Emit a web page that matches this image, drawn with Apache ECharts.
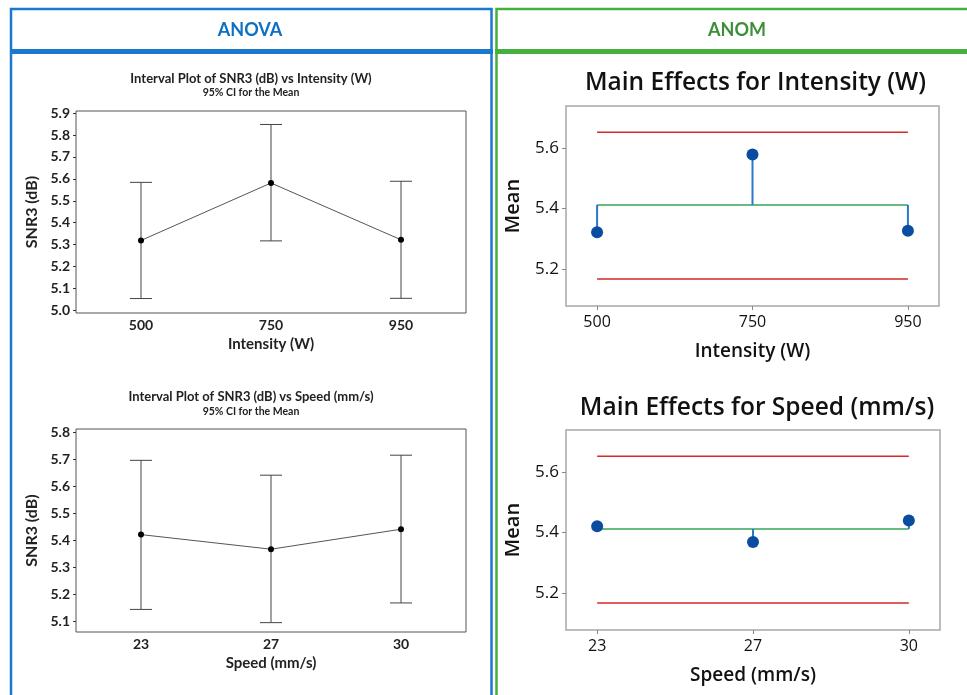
<!DOCTYPE html>
<html>
<head>
<meta charset="utf-8">
<script src="https://cdn.jsdelivr.net/npm/echarts@6/dist/echarts.min.js"></script>
<style>
  html, body { margin: 0; padding: 0; background: #fff; }
  #chart { width: 967px; height: 695px; }
</style>
</head>
<body>
<div id="chart"></div>
<script>
// ANOVA: interval plots (95% CI for the mean)
const intensityLevels = ['500', '750', '950'];
const intensityMean = [5.319, 5.581, 5.322];
const intensityUpper = [5.584, 5.848, 5.589];
const intensityLower = [5.054, 5.317, 5.055];
const intensityTicks = [5.0, 5.1, 5.2, 5.3, 5.4, 5.5, 5.6, 5.7, 5.8, 5.9];

const speedLevels = ['23', '27', '30'];
const speedMean = [5.421, 5.367, 5.441];
const speedUpper = [5.696, 5.641, 5.715];
const speedLower = [5.144, 5.095, 5.168];
const speedTicks = [5.1, 5.2, 5.3, 5.4, 5.5, 5.6, 5.7, 5.8];

// ANOM: main effects with decision limits
const anomIntensityMean = [5.322, 5.579, 5.327];
const anomSpeedMean = [5.421, 5.369, 5.440];
const anomCenter = [5.412, 5.412, 5.412];
const anomUpperLimit = [5.652, 5.652, 5.652];
const anomLowerLimit = [5.167, 5.167, 5.167];
const anomTicks = [5.2, 5.4, 5.6];

const FONT = 'Lato, "Open Sans", sans-serif';
const ANOM_FONT = '"Open Sans", Lato, sans-serif';
const BLUE = '#1b78cf';
const GREEN = '#46b03f';

const chart = echarts.init(document.getElementById('chart'));

function intervalYAxis(grid, min, max, ticks, name) {
  return {
    type: 'value', gridIndex: grid, min, max,
    name, nameLocation: 'middle', nameGap: 36,
    nameTextStyle: { fontFamily: FONT, fontSize: 16, fontWeight: 'bold', color: '#222' },
    splitLine: { show: false },
    axisLine: { show: false },
    axisTick: { show: true, length: 3, customValues: ticks, lineStyle: { color: '#333' } },
    axisLabel: {
      customValues: ticks, margin: 6,
      formatter: v => v.toFixed(1),
      fontFamily: FONT, fontSize: 14, fontWeight: 'bold', color: '#222'
    }
  };
}

function intervalXAxis(grid, levels, name) {
  return {
    type: 'category', gridIndex: grid, data: levels, boundaryGap: true,
    name, nameLocation: 'middle', nameGap: 24,
    nameTextStyle: { fontFamily: FONT, fontSize: 15, fontWeight: 'bold', color: '#222' },
    axisLine: { show: false },
    axisTick: { show: false },
    axisLabel: { margin: 5, fontFamily: FONT, fontSize: 14, fontWeight: 'bold', color: '#222' }
  };
}

function anomYAxis(grid) {
  return {
    type: 'value', gridIndex: grid, min: 5.078, max: 5.739,
    name: 'Mean', nameLocation: 'middle', nameGap: 43,
    nameTextStyle: { fontFamily: ANOM_FONT, fontSize: 20, fontWeight: 600, color: '#111' },
    splitLine: { show: false },
    axisLine: { show: false, onZero: false },
    axisTick: { show: true, length: 4, customValues: anomTicks, lineStyle: { color: '#888' } },
    axisLabel: {
      customValues: anomTicks, margin: 7,
      formatter: v => v.toFixed(1),
      fontFamily: ANOM_FONT, fontSize: 17, color: '#111'
    }
  };
}

function anomXAxis(grid, levels, name) {
  return {
    type: 'value', gridIndex: grid, min: -0.2, max: 2.2,
    name, nameLocation: 'middle', nameGap: 36,
    nameTextStyle: { fontFamily: ANOM_FONT, fontSize: 19, fontWeight: 600, color: '#111' },
    splitLine: { show: false },
    axisLine: { show: false, onZero: false },
    axisTick: { show: true, length: 4, customValues: [0, 1, 2], lineStyle: { color: '#888' } },
    axisLabel: {
      customValues: [0, 1, 2], margin: 8,
      formatter: v => levels[Math.round(v)],
      fontFamily: ANOM_FONT, fontSize: 16, color: '#111'
    }
  };
}

function errorBars(axis, upper, lower) {
  return {
    type: 'custom', xAxisIndex: axis, yAxisIndex: axis, z: 2,
    data: upper.map((u, i) => [i, lower[i], u]),
    renderItem(params, api) {
      const lo = api.coord([api.value(0), api.value(1)]);
      const hi = api.coord([api.value(0), api.value(2)]);
      const cap = 11;
      const style = { stroke: '#444', lineWidth: 1 };
      return {
        type: 'group',
        children: [
          { type: 'line', shape: { x1: hi[0], y1: hi[1], x2: lo[0], y2: lo[1] }, style },
          { type: 'line', shape: { x1: hi[0] - cap, y1: hi[1], x2: hi[0] + cap, y2: hi[1] }, style },
          { type: 'line', shape: { x1: lo[0] - cap, y1: lo[1], x2: lo[0] + cap, y2: lo[1] }, style }
        ]
      };
    }
  };
}

function meanLine(axis, means) {
  return {
    type: 'line', xAxisIndex: axis, yAxisIndex: axis, z: 3,
    data: means, symbol: 'circle', symbolSize: 6,
    itemStyle: { color: '#000' },
    lineStyle: { color: '#555', width: 1 }
  };
}

function limitLine(axis, values, color) {
  return {
    type: 'line', xAxisIndex: axis, yAxisIndex: axis, z: 2,
    data: values.map((v, i) => [i, v]), symbol: 'none',
    lineStyle: { color, width: 1.5 }
  };
}

function stems(axis, means) {
  return {
    type: 'custom', xAxisIndex: axis, yAxisIndex: axis, z: 3,
    data: means.map((m, i) => [i, anomCenter[i], m]),
    renderItem(params, api) {
      const c = api.coord([api.value(0), api.value(1)]);
      const p = api.coord([api.value(0), api.value(2)]);
      return { type: 'line', shape: { x1: c[0], y1: c[1], x2: p[0], y2: p[1] }, style: { stroke: '#2a78cc', lineWidth: 2 } };
    }
  };
}

function points(axis, means) {
  return {
    type: 'scatter', xAxisIndex: axis, yAxisIndex: axis, z: 4,
    data: means.map((m, i) => [i, m]), symbolSize: 12,
    itemStyle: { color: '#0a4da0', opacity: 1 }
  };
}

function text(x, y, str, size, weight, color, family) {
  return {
    type: 'text', x, y, z: 10,
    style: {
      text: str, fontFamily: family || FONT, fontSize: size, fontWeight: weight, fill: color,
      align: 'center', verticalAlign: 'middle', textAlign: 'center', textVerticalAlign: 'middle'
    }
  };
}

const leftGrid = { show: true, borderColor: '#555', borderWidth: 1, backgroundColor: '#fff' };
const rightGrid = { show: true, borderColor: '#a8a8a8', borderWidth: 1.5, backgroundColor: '#fff' };

chart.setOption({
  animation: false,
  backgroundColor: '#fff',
  grid: [
    { ...leftGrid, left: 76, top: 111, width: 390, height: 202 },
    { ...leftGrid, left: 76, top: 429, width: 390, height: 203 },
    { ...rightGrid, left: 566, top: 106, width: 373, height: 200 },
    { ...rightGrid, left: 566, top: 430, width: 374, height: 200 }
  ],
  xAxis: [
    intervalXAxis(0, intensityLevels, 'Intensity (W)'),
    intervalXAxis(1, speedLevels, 'Speed (mm/s)'),
    anomXAxis(2, intensityLevels, 'Intensity (W)'),
    anomXAxis(3, speedLevels, 'Speed (mm/s)')
  ],
  yAxis: [
    intervalYAxis(0, 4.988, 5.9095, intensityTicks, 'SNR3 (dB)'),
    intervalYAxis(1, 5.0604, 5.812, speedTicks, 'SNR3 (dB)'),
    anomYAxis(2),
    anomYAxis(3)
  ],
  series: [
    errorBars(0, intensityUpper, intensityLower),
    meanLine(0, intensityMean),
    errorBars(1, speedUpper, speedLower),
    meanLine(1, speedMean),
    limitLine(2, anomUpperLimit, '#d42a2a'),
    limitLine(2, anomLowerLimit, '#d42a2a'),
    limitLine(2, anomCenter, '#3aa55a'),
    stems(2, anomIntensityMean),
    points(2, anomIntensityMean),
    limitLine(3, anomUpperLimit, '#d42a2a'),
    limitLine(3, anomLowerLimit, '#d42a2a'),
    limitLine(3, anomCenter, '#3aa55a'),
    stems(3, anomSpeedMean),
    points(3, anomSpeedMean)
  ],
  graphic: [
    // panel frames
    { type: 'rect', shape: { x: 11, y: 9, width: 480.5, height: 720 }, style: { fill: 'none', stroke: BLUE, lineWidth: 2.5 } },
    { type: 'rect', shape: { x: 10, y: 49, width: 483, height: 5 }, style: { fill: BLUE } },
    { type: 'rect', shape: { x: 496.5, y: 9, width: 500, height: 720 }, style: { fill: 'none', stroke: GREEN, lineWidth: 2.5 } },
    { type: 'rect', shape: { x: 495, y: 49, width: 480, height: 5 }, style: { fill: GREEN } },
    text(250, 30, 'ANOVA', 18, 'bold', '#0d70c2'),
    text(737, 30, 'ANOM', 18, 'bold', '#3e8e38'),
    // chart titles
    text(251, 79, 'Interval Plot of SNR3 (dB) vs Intensity (W)', 13, 'bold', '#222'),
    text(251, 93, '95% CI for the Mean', 10.5, 'bold', '#222'),
    text(251, 397, 'Interval Plot of SNR3 (dB) vs Speed (mm/s)', 13, 'bold', '#222'),
    text(251, 411.5, '95% CI for the Mean', 10.5, 'bold', '#222'),
    text(755.5, 83, 'Main Effects for Intensity (W)', 24.5, 600, '#111', ANOM_FONT),
    text(757, 408, 'Main Effects for Speed (mm/s)', 24.5, 600, '#111', ANOM_FONT)
  ]
});
</script>
</body>
</html>
